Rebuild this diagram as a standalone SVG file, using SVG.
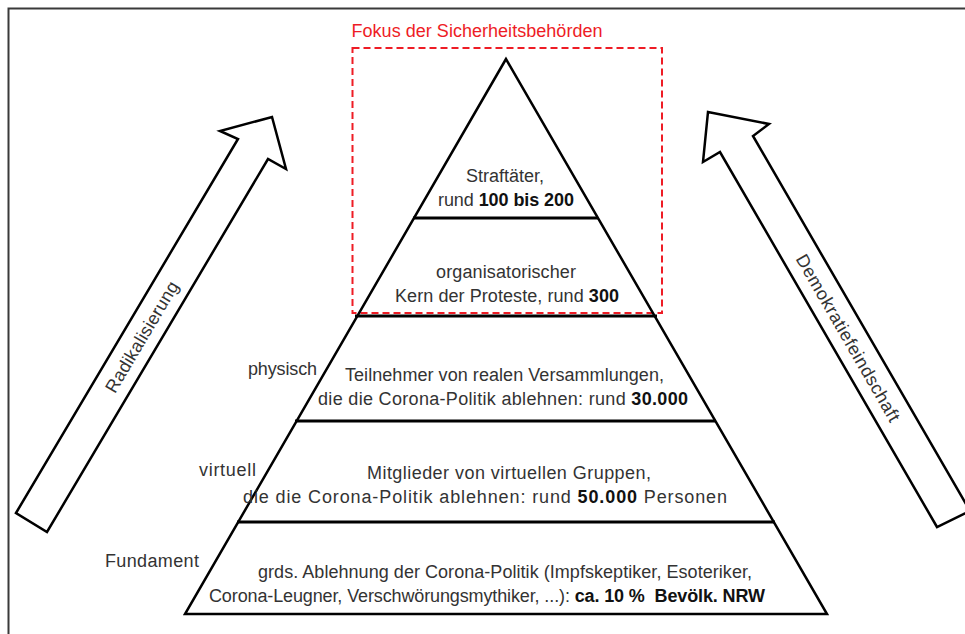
<svg xmlns="http://www.w3.org/2000/svg" width="965" height="634" viewBox="0 0 965 634">
<style>
  .t { font-family: "Liberation Sans", Arial, sans-serif; font-size: 18px; fill: #333; }
  .c { text-anchor: middle; }
  .b { font-weight: bold; fill: #111; }
  .edge { fill: none; stroke: #000; stroke-width: 2.5; stroke-linejoin: miter; }
  .layer { stroke: #000; stroke-width: 3; }
  .arrow { fill: #fff; stroke: #000; stroke-width: 2.5; stroke-linejoin: miter; }
</style>
<rect width="965" height="634" fill="#fff"/>
<rect x="8.5" y="8.5" width="975" height="640" fill="none" stroke="#3a3a3a" stroke-width="2"/>

<g id="focus">
  <rect x="352.5" y="48" width="309.5" height="265" fill="none" stroke="#ee1c25" stroke-width="2" stroke-dasharray="7 4"/>
  <text class="t c" x="477" y="37" style="fill:#ee1c25" textLength="251">Fokus der Sicherheitsbehörden</text>
</g>

<g id="pyramid">
  <polygon class="edge" points="506,59 185,614 827,614"/>
</g>

<g id="connectors">
  <line class="layer" x1="413" y1="218" x2="598" y2="218"/>
  <line class="layer" x1="355" y1="316" x2="657" y2="316"/>
  <line class="layer" x1="295" y1="421" x2="716" y2="421"/>
  <line class="layer" x1="237" y1="522" x2="775" y2="522"/>
</g>

<g id="layer1">
  <text class="t c" x="505" y="182" textLength="78">Straftäter,</text>
  <text class="t c" x="506" y="206" textLength="136">rund <tspan class="b">100 bis 200</tspan></text>
</g>
<g id="layer2">
  <text class="t c" x="506" y="278" textLength="140">organisatorischer</text>
  <text class="t c" x="507" y="302" textLength="224">Kern der Proteste, rund <tspan class="b">300</tspan></text>
</g>
<g id="layer3">
  <text class="t c" x="504.5" y="381" textLength="319">Teilnehmer von realen Versammlungen,</text>
  <text class="t c" x="503" y="405" textLength="370">die die Corona-Politik ablehnen: rund <tspan class="b">30.000</tspan></text>
</g>
<g id="layer4">
  <text class="t c" x="509" y="479" textLength="284">Mitglieder von virtuellen Gruppen,</text>
  <text class="t c" x="485" y="503" textLength="484">die die Corona-Politik ablehnen: rund <tspan class="b">50.000</tspan> Personen</text>
</g>
<g id="layer5">
  <text class="t c" x="505" y="578" textLength="494">grds. Ablehnung der Corona-Politik (Impfskeptiker, Esoteriker,</text>
  <text class="t c" x="487" y="602" textLength="556">Corona-Leugner, Verschwörungsmythiker, ...): <tspan class="b">ca. 10 %&#160; Bevölk. NRW</tspan></text>
</g>

<g id="side-labels">
  <text class="t" x="248" y="375" textLength="69">physisch</text>
  <text class="t" x="199" y="476" textLength="57">virtuell</text>
  <text class="t" x="105" y="567" textLength="94">Fundament</text>
</g>

<g id="arrow-radikalisierung">
  <polygon class="arrow" points="16,513 238,139 220,131 272,117 286,169 268,159 47,532"/>
  <text class="t c" transform="translate(142,337) rotate(-59.3)" y="6" textLength="126">Radikalisierung</text>
</g>

<g id="arrow-demokratiefeindschaft">
  <polygon class="arrow" points="937,527 720,152 703,162 708,112 769,124 753,136 970,511"/>
  <text class="t c" transform="translate(848,338) rotate(60)" y="6" textLength="190">Demokratiefeindschaft</text>
</g>
</svg>
